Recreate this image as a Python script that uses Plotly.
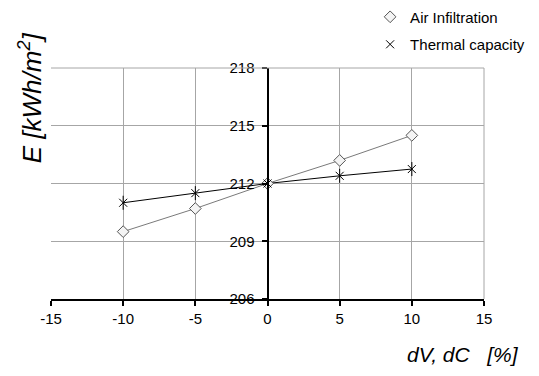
import plotly.graph_objects as go

x_vals = [-10, -5, 0, 5, 10]
air_infiltration = [209.5, 210.7, 212.0, 213.2, 214.5]
thermal_capacity = [211.0, 211.5, 212.0, 212.4, 212.75]
x_ticks = [-15, -10, -5, 0, 5, 10, 15]
y_ticks = [206, 209, 212, 215, 218]

# page body has an 8px default margin, so the figure is sized to fit the window
W, H = 531, 368
L, R, T, B = 43, 55, 60, 77
font = "Liberation Sans, Arial, sans-serif"

fig = go.Figure()
fig.add_trace(go.Scatter(x=x_vals, y=air_infiltration, mode="lines",
                         line=dict(color="#7a7a7a", width=1), showlegend=False, hoverinfo="skip"))
fig.add_trace(go.Scatter(x=x_vals, y=thermal_capacity, mode="lines",
                         line=dict(color="#000000", width=1), showlegend=False, hoverinfo="skip"))
fig.add_trace(go.Scatter(x=x_vals, y=air_infiltration, mode="markers", name="Air Infiltration",
                         legendgroup="a",
                         marker=dict(symbol="diamond", size=9, color="#f4f4f4",
                                     line=dict(width=1, color="#555555"))))
fig.add_trace(go.Scatter(x=x_vals, y=thermal_capacity, mode="markers", name="Thermal capacity",
                         legendgroup="b",
                         marker=dict(symbol="x-thin-open", size=8, color="#000000",
                                     line=dict(width=1, color="#000000"))))
fig.add_trace(go.Scatter(x=x_vals, y=thermal_capacity, mode="markers", showlegend=False,
                         legendgroup="b", hoverinfo="skip",
                         marker=dict(symbol="line-ns-open", size=10, color="#000000",
                                     line=dict(width=1, color="#000000"))))

fig.update_layout(
    width=W, height=H,
    margin=dict(l=L, r=R, t=T, b=B, autoexpand=False),
    paper_bgcolor="white", plot_bgcolor="white",
    font=dict(family=font, size=15, color="black"),
    xaxis=dict(range=[-15, 15], tickvals=x_ticks, ticktext=[str(v) for v in x_ticks],
               showgrid=True, gridcolor="#a6a6a6", gridwidth=1,
               zeroline=False, showline=True, linecolor="black", linewidth=2,
               ticks="outside", ticklen=5, tickwidth=2, tickcolor="black",
               tickfont=dict(size=15), fixedrange=True),
    yaxis=dict(range=[206, 218], tickvals=y_ticks, ticktext=[str(v) for v in y_ticks],
               showgrid=True, gridcolor="#a6a6a6", gridwidth=1,
               zeroline=False, showline=True, linecolor="black", linewidth=2,
               ticks="outside", ticklen=5, tickwidth=2, tickcolor="black",
               ticklabelstandoff=4,
               tickfont=dict(size=15), anchor="free", position=0.5, fixedrange=True),
    legend=dict(x=0.737, y=1.292, xanchor="left", yanchor="top",
                font=dict(family=font, size=15), traceorder="grouped",
                tracegroupgap=5, itemwidth=30, bgcolor="rgba(0,0,0,0)",
                borderwidth=0),
    shapes=[
        dict(type="line", xref="paper", yref="paper", x0=0, x1=1, y0=1, y1=1,
             line=dict(color="#a6a6a6", width=1)),
        dict(type="line", xref="paper", yref="paper", x0=1, x1=1, y0=0, y1=1,
             line=dict(color="#a6a6a6", width=1)),
    ],
    annotations=[
        dict(text="<i>E [kWh/m<sup>2</sup>]</i>", xref="paper", yref="paper",
             x=-0.048, y=0.87, textangle=-90, showarrow=False,
             font=dict(family=font, size=26, color="black"), xanchor="center", yanchor="middle"),
        dict(text="<i>dV, dC&nbsp;&nbsp;&nbsp;[%]</i>", xref="paper", yref="paper",
             x=1.085, y=-0.242, showarrow=False, xanchor="right", yanchor="middle",
             font=dict(family=font, size=21, color="black")),
    ],
)
fig.write_html("out.html")
